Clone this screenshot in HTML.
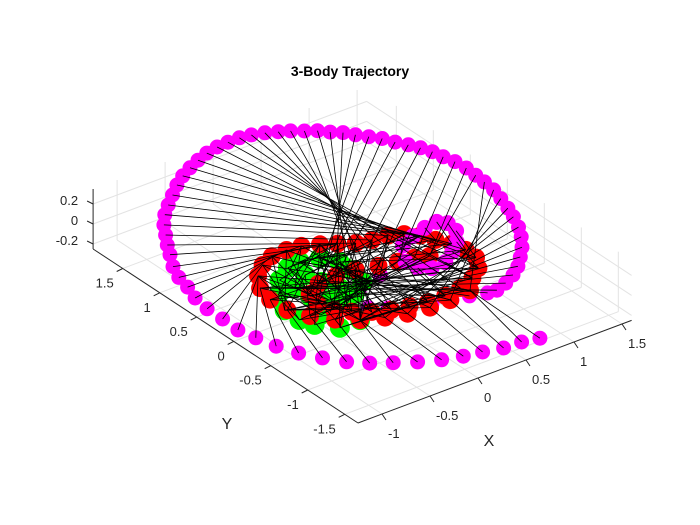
<!DOCTYPE html>
<html><head><meta charset="utf-8"><style>
html,body{margin:0;padding:0;background:#fff;}
svg{display:block;font-family:"Liberation Sans",Arial,sans-serif;}
</style></head><body>
<svg id="chart" width="700" height="525" viewBox="0 0 700 525">
<rect width="700" height="525" fill="#fff"/>
<text x="350" y="76" text-anchor="middle" font-size="14" font-weight="bold" fill="#000">3-Body Trajectory</text>
<g id="grid"></g>
<g id="axes"></g>
<g id="marks"></g>
<text x="489" y="446" text-anchor="middle" font-size="16" fill="#262626">X</text>
<text x="227" y="429" text-anchor="middle" font-size="16" fill="#262626">Y</text>
</svg>
<script>
const xTicks=[-1,-0.5,0,0.5,1,1.5];
const yTicks=[-1.5,-1,-0.5,0,0.5,1,1.5];
const zTicks=[-0.2,0,0.2];
const xLim=[-1.25,1.6], yLim=[-1.68,1.9], zLim=[-0.25,0.35];
const magX=[0.56,0.40,0.22,0.04,-0.13,-0.31,-0.49,-0.66,-0.82,-0.96,-1.08,-1.19,-1.27,-1.32,-1.36,-1.35,-1.35,-1.32,-1.26,-1.22,-1.15,-1.05,-0.97,-0.88,-0.79,-0.68,-0.56,-0.43,-0.30,-0.17,-0.04,0.09,0.22,0.35,0.47,0.59,0.70,0.81,0.91,1.00,1.09,1.18,1.25,1.33,1.39,1.46,1.53,1.58,1.64,1.69,1.73,1.75,1.78,1.79,1.78,1.77,1.75,1.71,1.66,1.61,1.54,1.46,1.36,1.25,1.14,1.02,0.89,0.76,0.67,0.52,0.36,0.19,0.02,-0.14,-0.27,-0.41,-0.57,-0.15,0.14,0.42,0.59,0.75,0.91,1.05,1.11,1.09,0.98,0.85,0.70,0.55,0.46,0.44];
const magY=[-1.79,-1.75,-1.74,-1.69,-1.65,-1.59,-1.50,-1.39,-1.28,-1.15,-0.98,-0.80,-0.60,-0.39,-0.20,0.02,0.23,0.43,0.61,0.78,0.95,1.12,1.26,1.40,1.54,1.67,1.78,1.89,2.00,2.09,2.16,2.22,2.27,2.30,2.31,2.31,2.29,2.25,2.20,2.15,2.08,2.02,1.94,1.87,1.78,1.69,1.60,1.49,1.39,1.29,1.18,1.06,0.94,0.80,0.66,0.53,0.38,0.23,0.07,-0.07,-0.23,-0.37,-0.51,-0.63,-0.74,-0.83,-0.90,-0.95,-0.94,-0.89,-0.86,-0.81,-0.73,-0.65,-0.55,-0.45,-0.42,-0.27,-0.18,-0.08,0.10,0.17,0.22,0.24,0.17,0.03,-0.12,-0.23,-0.33,-0.34,-0.27,-0.13];
const redX=[0.58,0.35,0.14,-0.07,-0.26,-0.45,-0.61,-0.74,-0.83,-0.84,-0.79,-0.68,-0.54,-0.39,-0.23,-0.09,0.05,0.17,0.30,0.44,0.59,0.71,0.80,0.86,0.93,0.96,0.95,0.86,0.72,0.54,0.36,0.18,0.02,-0.14,-0.29,-0.42,-0.52,-0.57,-0.52,-0.36,-0.16,0.03,0.22,0.39,0.54,0.66];
const redY=[-0.82,-0.85,-0.85,-0.82,-0.76,-0.67,-0.54,-0.37,-0.18,0.04,0.24,0.41,0.53,0.60,0.61,0.59,0.52,0.44,0.36,0.32,0.30,0.24,0.14,0.01,-0.12,-0.27,-0.42,-0.57,-0.67,-0.74,-0.77,-0.77,-0.73,-0.69,-0.62,-0.52,-0.41,-0.25,-0.08,0.01,0.03,0.01,-0.05,-0.09,-0.12,-0.17];
const grnX=[-0.26,-0.09,0.00,0.02,-0.05,-0.22,-0.43,-0.66,-0.85,-0.85,-0.74,-0.58,-0.40,-0.36,-0.32,-0.26,-0.45,-0.54,-0.56,-0.80,-0.66,-0.45,-0.02];
const grnY=[0.39,0.34,0.19,0.01,-0.18,-0.30,-0.37,-0.41,-0.37,-0.17,0.06,0.25,0.37,0.19,0.02,-0.15,-0.26,-0.11,0.07,-0.51,-0.67,-0.67,0.09];

const C=[358,423], ex=[96,-36], ey=[-74,-48.6], ez=[0,-100];
function P(x,y,z){const a=x-xLim[0],b=y-yLim[0],c=z-zLim[0];
  return [C[0]+a*ex[0]+b*ey[0]+c*ez[0], C[1]+a*ex[1]+b*ey[1]+c*ez[1]];}
const NS='http://www.w3.org/2000/svg';
function mk(parent,tag,attrs){const e=document.createElementNS(NS,tag);for(const k in attrs)e.setAttribute(k,attrs[k]);parent.appendChild(e);return e;}
function line(parent,p,q,stroke,w){return mk(parent,'line',{x1:p[0].toFixed(1),y1:p[1].toFixed(1),x2:q[0].toFixed(1),y2:q[1].toFixed(1),stroke:stroke,'stroke-width':w});}
const grid=document.getElementById('grid'), axes=document.getElementById('axes'), marks=document.getElementById('marks');
const gc='#e3e3e3';
xTicks.forEach(t=>{const l=line(grid,P(t,yLim[0],zLim[0]),P(t,yLim[1],zLim[0]),gc,1);

});
yTicks.forEach(t=>{const l=line(grid,P(xLim[0],t,zLim[0]),P(xLim[1],t,zLim[0]),gc,1);

});
xTicks.forEach(t=>{const l=line(grid,P(t,yLim[1],zLim[0]),P(t,yLim[1],zLim[1]),gc,1);

});
zTicks.forEach(t=>{const l=line(grid,P(xLim[0],yLim[1],t),P(xLim[1],yLim[1],t),gc,1);

});
yTicks.forEach(t=>{const l=line(grid,P(xLim[1],t,zLim[0]),P(xLim[1],t,zLim[1]),gc,1);

});
zTicks.forEach(t=>{const l=line(grid,P(xLim[1],yLim[0],t),P(xLim[1],yLim[1],t),gc,1);

});
const ac='#262626';
let a1=line(axes,P(xLim[0],yLim[0],zLim[0]),P(xLim[1],yLim[0],zLim[0]),ac,1);


let a2=line(axes,P(xLim[0],yLim[0],zLim[0]),P(xLim[0],yLim[1],zLim[0]),ac,1);


let a3=line(axes,P(xLim[0],yLim[1],zLim[0]),P(xLim[0],yLim[1],zLim[1]),ac,1);


function txt(x,y,s,anchor){const e=mk(axes,'text',{x:x.toFixed(1),y:y.toFixed(1),'font-size':'13','text-anchor':anchor,fill:'#262626'});e.textContent=s;return e;}
xTicks.forEach(t=>{const p=P(t,yLim[0],zLim[0]);
 const k=line(axes,p,[p[0]+4,p[1]+6],ac,1);
 
 
 const e=txt(p[0]+6,p[1]+24,String(t),'start');
 
 });
yTicks.forEach(t=>{const p=P(xLim[0],t,zLim[0]);
 const k=line(axes,p,[p[0]-6,p[1]+3],ac,1);
 
 
 const e=txt(p[0]-9,p[1]+19,String(t),'end');
 
 });
zTicks.forEach(t=>{const p=P(xLim[0],yLim[1],t);
 const k=line(axes,p,[p[0]-6,p[1]-3],ac,1);
 
 
 const e=txt(p[0]-15,p[1]+1,String(t),'end');
 
 });
function pts(X,Y){return X.map((x,i)=>P(x,Y[i],0));}
const mp=pts(magX,magY), rp=pts(redX,redY), gp=pts(grnX,grnY);
function dots(arr,fill,r,name){arr.forEach(p=>{const c=mk(marks,'circle',{cx:p[0].toFixed(1),cy:p[1].toFixed(1),r:r,fill:fill});
 
 });}
dots(mp,'#ff00ff',7.5,'body1-marker');
dots(gp,'#00ff00',10,'body3-marker');
dots(rp,'#ff0000',9,'body2-marker');
dots(mp.slice(80),'#ff00ff',8,'body1-inner-marker');
const lg=mk(marks,'g',{});


mp.forEach((p,i)=>{const r=rp[Math.floor(i*rp.length*1.7/mp.length)%rp.length];
 const g=gp[Math.floor(i*gp.length*2.3/mp.length)%gp.length];
 const l1=line(lg,p,r,'#000',0.8);
 
 
 const l2=line(lg,r,g,'#000',0.8);
 
 });
</script>
</body></html>
